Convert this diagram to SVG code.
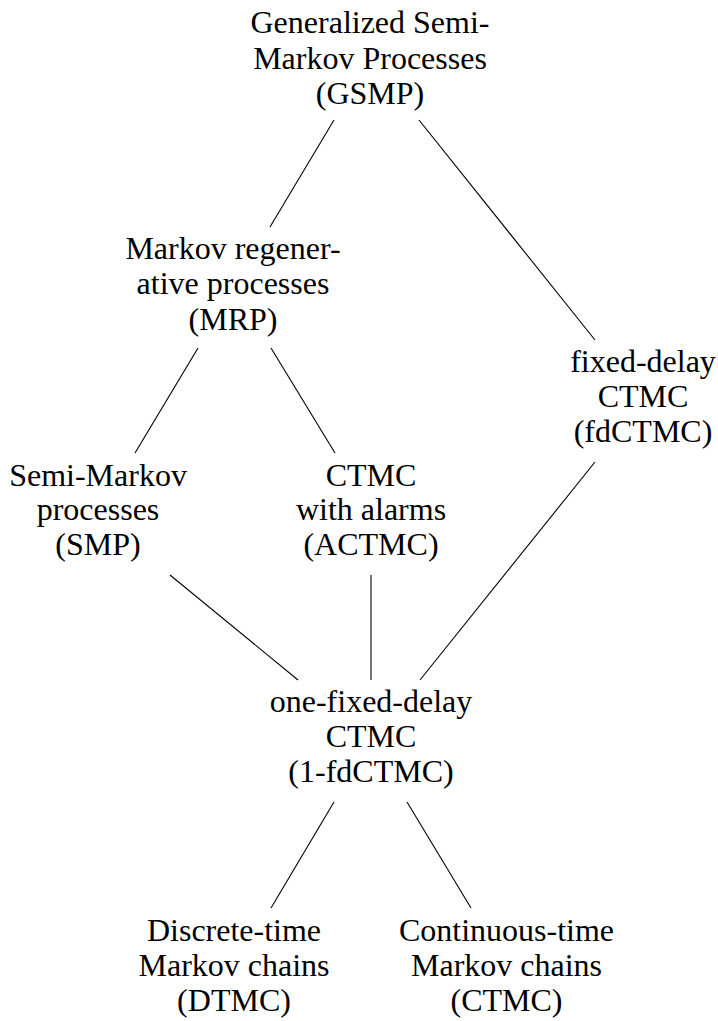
<svg xmlns="http://www.w3.org/2000/svg" width="718" height="1021" viewBox="0 0 718 1021">
<style>
text{font-family:"Liberation Serif","Times New Roman",serif;font-size:32px;fill:#000;text-anchor:middle}
.e line{stroke:#000;stroke-width:1.1;fill:none}
</style>
<rect width="718" height="1021" fill="#fff"/>
<g id="connectors" class="e">
<line x1="334" y1="120" x2="270" y2="227"/>
<line x1="419" y1="120" x2="595" y2="340"/>
<line x1="198" y1="348" x2="135" y2="453"/>
<line x1="271" y1="348" x2="335" y2="453"/>
<line x1="170" y1="575" x2="298" y2="680"/>
<line x1="371" y1="575" x2="371" y2="680"/>
<line x1="595" y1="462" x2="420" y2="680"/>
<line x1="334" y1="802" x2="271" y2="908"/>
<line x1="407" y1="802" x2="471" y2="908"/>
</g>
<g id="gsmp">
<text x="370" y="33">Generalized Semi-</text>
<text x="370" y="69">Markov Processes</text>
<text x="370" y="104">(GSMP)</text>
</g>
<g id="mrp">
<text x="233" y="259">Markov regener-</text>
<text x="233" y="294">ative processes</text>
<text x="233" y="330">(MRP)</text>
</g>
<g id="fdctmc">
<text x="643" y="372">fixed-delay</text>
<text x="643" y="407">CTMC</text>
<text x="643" y="442">(fdCTMC)</text>
</g>
<g id="smp">
<text x="98" y="486">Semi-Markov</text>
<text x="98" y="520">processes</text>
<text x="98" y="555">(SMP)</text>
</g>
<g id="actmc">
<text x="371" y="486">CTMC</text>
<text x="371" y="520">with alarms</text>
<text x="371" y="555">(ACTMC)</text>
</g>
<g id="onefdctmc">
<text x="371" y="712">one-fixed-delay</text>
<text x="371" y="747">CTMC</text>
<text x="371" y="782">(1-fdCTMC)</text>
</g>
<g id="dtmc">
<text x="234" y="941">Discrete-time</text>
<text x="234" y="976">Markov chains</text>
<text x="234" y="1011">(DTMC)</text>
</g>
<g id="ctmc">
<text x="506.5" y="941">Continuous-time</text>
<text x="506.5" y="976">Markov chains</text>
<text x="506.5" y="1011">(CTMC)</text>
</g>
</svg>
